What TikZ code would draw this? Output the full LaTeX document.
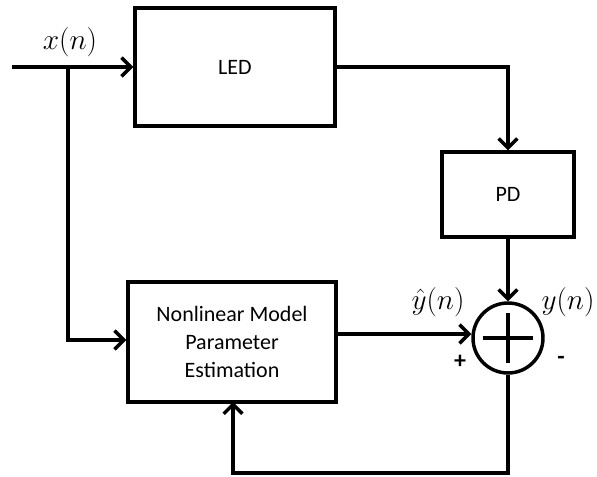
\RequirePackage{fix-cm}
\documentclass[tikz,border=0pt]{standalone}
\usepackage{fontspec}
\setmainfont{Carlito}
\usepackage{amsmath}
\usepackage{tikz}
\usetikzlibrary{arrows.meta,positioning,calc}

\tikzset{
  blockbox/.style={rectangle, draw=black, line width=2.6pt, align=center, font=\fontsize{16.5}{21}\selectfont},
  sigline/.style={line width=2.6pt, -{Straight Barb[length=7pt,width=14pt]}},
  plainline/.style={line width=2.6pt},
  siglabel/.style={font=\fontsize{22}{24}\selectfont}
}

\begin{document}
\begin{tikzpicture}[x=0.75pt, y=-0.75pt]
\useasboundingbox (0,0) rectangle (597,477);
% blocks
\node[blockbox, minimum width=150pt, minimum height=88.5pt] (led) at (235,67) {LED};
\node[blockbox, minimum width=99pt, minimum height=63.75pt] (pd) at (508,194.5) {PD};
\node[blockbox, minimum width=156pt, minimum height=90pt] (nlm) at (232,342) {Nonlinear Model\\Parameter\\Estimation};
\node[circle, draw=black, line width=2.6pt, minimum size=52.5pt, inner sep=0pt] (sum) at (508,338) {};
\draw[plainline] ($(sum.center)+(-19pt,0)$) -- ($(sum.center)+(19pt,0)$);
\draw[plainline] ($(sum.center)+(0,-19pt)$) -- ($(sum.center)+(0,19pt)$);
% input and branch
\coordinate (xin) at (12,67);
\coordinate (split) at (68,67);
\draw[sigline] (xin) -- (led.west);
\draw[sigline] (split) |- (68,340) -- (68,340 -| nlm.west);
% forward path
\draw[sigline] (led.east) -| (pd.north);
\draw[sigline] (pd.south) -- (sum.north);
\draw[sigline] (nlm.east |- 0,334) -- (sum.west |- 0,334);
% feedback
\coordinate (fb) at (508,473);
\draw[sigline] (sum.south) -- (fb) -| (233,402);
% labels
\node[siglabel] (xlab) at (70,42) {$x(n)$};
\node[siglabel] (yhat) at (438,302) {$\hat{y}(n)$};
\node[siglabel] (ylab) at (568,302) {$y(n)$};
\node[font=\fontsize{18}{18}\selectfont\bfseries] (plus) at (460,362) {+};
\node[font=\fontsize{18}{18}\selectfont\bfseries] (minus) at (561,360) {-};
\end{tikzpicture}
\end{document}
